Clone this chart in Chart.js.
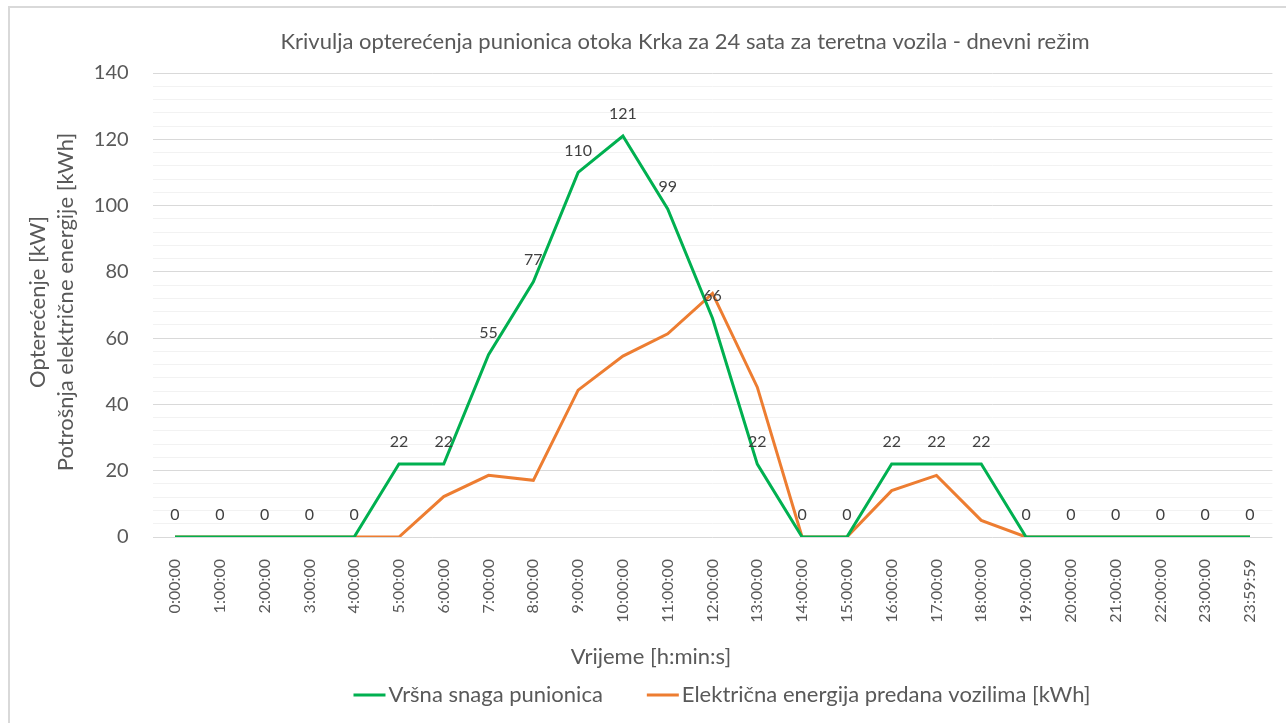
<!DOCTYPE html>
<html lang="hr">
<head>
    <meta charset="UTF-8" />
    <title>Krivulja opterećenja punionica - teretna vozila</title>
    <script src="https://cdn.jsdelivr.net/npm/chart.js"></script>
    <style>
        html, body { margin: 0; padding: 0; background: #fff; }
        #wrap { position: relative; width: 1286px; height: 723px; overflow: hidden; }
        /* light frame around the chart, like the exported sheet chart */
        #frame {
            position: absolute; left: 8px; top: 6px; width: 1300px; height: 760px;
            border: 2px solid #d9d9d9; box-sizing: border-box; pointer-events: none;
        }
        canvas { position: absolute; left: 0; top: 0; }
    </style>
</head>
<body>
<div id="wrap">
    <canvas id="loadChart" width="1286" height="723"></canvas>
    <div id="frame"></div>
</div>

<script>
    // hourly time stamps
    const hours = [
        "0:00:00", "1:00:00", "2:00:00", "3:00:00", "4:00:00", "5:00:00",
        "6:00:00", "7:00:00", "8:00:00", "9:00:00", "10:00:00", "11:00:00",
        "12:00:00", "13:00:00", "14:00:00", "15:00:00", "16:00:00", "17:00:00",
        "18:00:00", "19:00:00", "20:00:00", "21:00:00", "22:00:00", "23:00:00",
        "23:59:59"
    ];

    // peak power of the charging stations [kW]
    const peakPower = [0, 0, 0, 0, 0, 22, 22, 55, 77, 110, 121, 99, 66, 22, 0, 0, 22, 22, 22, 0, 0, 0, 0, 0, 0];

    // energy delivered to vehicles [kWh]
    const energyDelivered = [0, 0, 0, 0, 0, 0, 12.2, 18.6, 17.1, 44.3, 54.6, 61.3, 73.5, 45.2, 0, 0, 14, 18.6, 5, 0, 0, 0, 0, 0, 0];

    const seriesNames = ["Vršna snaga punionica", "Električna energija predana vozilima [kWh]"];
    const yTickMax = 140;
    const yMajorStep = 20;
    const yMinorStep = 4;

    const chartTitle = "Krivulja opterećenja punionica otoka Krka za 24 sata za teretna vozila - dnevni režim";
    const xTitle = "Vrijeme [h:min:s]";
    const yTitle = ["Opterećenje [kW]", "Potrošnja električne energije [kWh]"];

    const FONT = "Lato, 'Open Sans', sans-serif";
    const TEXT = "#595959";

    // titles, legend and value labels are drawn here so they can sit where the sheet chart puts them
    const annotations = {
        id: "annotations",
        afterDatasetsDraw(chart) {
            const ctx = chart.ctx;
            ctx.save();

            // value labels over the peak power line
            const meta = chart.getDatasetMeta(0);
            ctx.font = "16px " + FONT;
            ctx.fillStyle = "#404040";
            ctx.textAlign = "center";
            ctx.textBaseline = "middle";
            meta.data.forEach((pt, i) => {
                ctx.fillText(String(peakPower[i]), pt.x, pt.y - 22);
            });

            // chart title
            ctx.fillStyle = TEXT;
            ctx.font = "22px " + FONT;
            ctx.fillText(chartTitle, 685, 42);

            // x axis title
            ctx.fillText(xTitle, 651, 657);

            // y axis title, two lines rotated
            ctx.save();
            ctx.translate(0, 302);
            ctx.rotate(-Math.PI / 2);
            ctx.fillText(yTitle[0], 0, 38);
            ctx.fillText(yTitle[1], 0, 66);
            ctx.restore();

            // legend
            const lineW = 32, gap = 3, itemGap = 44, legendY = 695;
            const items = chart.data.datasets.map(ds => ({
                text: ds.label, color: ds.borderColor, w: lineW + gap + ctx.measureText(ds.label).width
            }));
            const total = items.reduce((s, it) => s + it.w, 0) + itemGap * (items.length - 1);
            let x = 722 - total / 2;
            ctx.textAlign = "left";
            items.forEach(it => {
                ctx.strokeStyle = it.color;
                ctx.lineWidth = 3;
                ctx.beginPath();
                ctx.moveTo(x, legendY);
                ctx.lineTo(x + lineW, legendY);
                ctx.stroke();
                ctx.fillText(it.text, x + lineW + gap, legendY);
                x += it.w + itemGap;
            });

            ctx.restore();
        }
    };

    new Chart(document.getElementById("loadChart"), {
        type: "line",
        data: {
            labels: hours,
            datasets: [
                {
                    label: seriesNames[0],
                    data: peakPower,
                    borderColor: "#00b050",
                    borderWidth: 3,
                    pointRadius: 0,
                    tension: 0,
                },
                {
                    label: seriesNames[1],
                    data: energyDelivered,
                    borderColor: "#ed7d31",
                    borderWidth: 3,
                    pointRadius: 0,
                    tension: 0,
                },
            ],
        },
        options: {
            responsive: false,
            animation: false,
            layout: { padding: { top: 73, right: 13.6, bottom: 0, left: 0 } },
            plugins: {
                legend: { display: false },
                tooltip: { enabled: false },
            },
            scales: {
                x: {
                    offset: true,
                    grid: { display: false },
                    border: { display: false },
                    ticks: {
                        font: { family: FONT, size: 16 },
                        color: TEXT,
                        minRotation: 90,
                        maxRotation: 90,
                        autoSkip: false,
                        padding: 14,
                    },
                    afterFit(scale) { scale.height = 186; },
                },
                y: {
                    min: 0,
                    max: yTickMax,
                    border: { display: false },
                    grid: {
                        drawTicks: false,
                        color: ctx => (ctx.tick.value % yMajorStep === 0 ? "#d9d9d9" : "#f2f2f2"),
                    },
                    ticks: {
                        stepSize: yMinorStep,
                        autoSkip: false,
                        padding: 24,
                        font: { family: FONT, size: 20 },
                        color: TEXT,
                        callback: v => (v % yMajorStep === 0 ? v : ""),
                    },
                    afterFit(scale) { scale.width = 152.6; },
                },
            },
        },
        plugins: [annotations],
    });
</script>
</body>
</html>
